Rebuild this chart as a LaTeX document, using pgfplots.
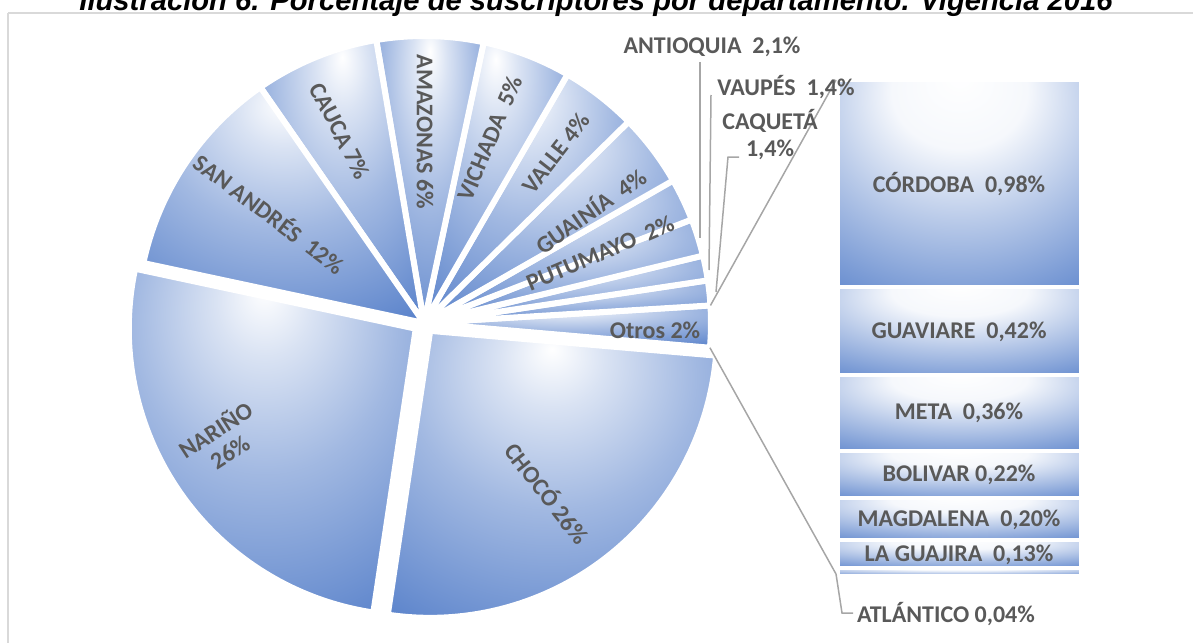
\documentclass[border=0pt]{standalone}
\usepackage{pgfplots}
\pgfplotsset{compat=1.18}
\usepackage{pgfplotstable}
\usepackage{fontspec}
\setmainfont{Carlito}
\newfontfamily\titlefont{Liberation Sans}

\definecolor{pieblue}{HTML}{4472C4}
\definecolor{lbl}{HTML}{595959}
\definecolor{conn}{HTML}{A6A6A6}
\definecolor{framec}{HTML}{D9D9D9}

\pgfdeclareradialshading{glow}{\pgfpoint{0bp}{22bp}}{%
 color(0bp)=(white);
 color(8bp)=(white!80!pieblue);
 color(22bp)=(white!50!pieblue);
 color(38bp)=(white!22!pieblue);
 color(50bp)=(pieblue);
 color(100bp)=(pieblue)}
\pgfdeclareradialshading{barglow}{\pgfpoint{0bp}{26bp}}{%
 color(0bp)=(white);
 color(14bp)=(white!95!pieblue);
 color(28bp)=(white!62!pieblue);
 color(42bp)=(white!30!pieblue);
 color(56bp)=(pieblue);
 color(100bp)=(pieblue)}

% pie: share of each department (%), explosion in px
\pgfplotstableread{
dep val ex
Choco 26 10
Otros 2.35 0
Caqueta 1.4 0
Vaupes 1.4 0
Antioquia 2.1 0
Putumayo 2.4 0
Guainia 4.1 0
Valle 4.3 0
Vichada 5 0
Amazonas 6 0
Cauca 7 0
SanAndres 12 0
Narino 26 10
}\piedata

% bar of "Otros" (%)
\pgfplotstableread{
dep val
Atlantico 0.04
LaGuajira 0.13
Magdalena 0.20
Bolivar 0.22
Meta 0.36
Guaviare 0.42
Cordoba 0.98
}\bardata

\tikzset{lab/.style={text=lbl, font=\bfseries\fontsize{12}{13}\selectfont, inner sep=0pt}}
\pgfplotsset{pix/.style={x=0.5pt, y=0.5pt, xmin=0, xmax=1193, ymin=0, ymax=642, y dir=reverse,
  hide axis, clip=false, scale only axis, at={(0,0)}, anchor=south west}}
\def\cx{424}\def\cy{323}\def\rr{287}

\begin{document}
\begin{tikzpicture}
\begin{axis}[pix]
\addplot[draw=none] coordinates {(0,0) (1193,642)};
% frame
\draw[framec, line width=0.75pt] (axis cs:8,13) -- (axis cs:1200,13);
\draw[framec, line width=0.75pt] (axis cs:8,13) -- (axis cs:8,660);
% pie
\pgfplotstablegetrowsof{\piedata}\pgfmathtruncatemacro\nrows{\pgfplotsretval-1}
\def\total{0}
\pgfplotsforeachungrouped \i in {0,...,\nrows}{%
  \pgfplotstablegetelem{\i}{val}\of\piedata
  \pgfmathsetmacro\total{\total+\pgfplotsretval}}
\def\cum{-98.5}
\pgfplotsforeachungrouped \i in {0,...,\nrows}{%
  \pgfplotstablegetelem{\i}{val}\of\piedata \let\v\pgfplotsretval
  \pgfplotstablegetelem{\i}{ex}\of\piedata \let\ex\pgfplotsretval
  \pgfmathsetmacro\a{\cum}
  \pgfmathsetmacro\b{\cum+\v/\total*360}
  \pgfmathsetmacro\m{(\a+\b)/2}
  \pgfmathsetmacro\sx{\cx+\ex*cos(\m)}
  \pgfmathsetmacro\sy{\cy-\ex*sin(\m)}
  \pgfmathsetmacro\rpt{\rr/2}
  \edef\cmd{\noexpand\path[shade,shading=glow,draw=white,line width=3pt]
    (axis cs:\sx,\sy) -- ++(\a:\rpt pt) arc[start angle=\a,end angle=\b,radius=\rpt pt] -- cycle;}
  \cmd
  \ifnum\i=1
    \xdef\otA{\a}\xdef\otB{\b}%
  \fi
  \let\cum\b
}
\end{axis}

% bar of the "Otros" slice (stacked segments)
\begin{axis}[at={(419pt,33pt)}, anchor=south west, scale only axis,
  width=121.5pt, height=248pt, xmin=0, xmax=1, ymin=0, ymax=2.35,
  hide axis, clip=false]
\addplot[draw=none] coordinates {(0,0) (1,2.35)};
\def\lo{0}
\pgfplotsforeachungrouped \i in {0,...,6}{%
  \pgfplotstablegetelem{\i}{val}\of\bardata
  \pgfmathsetmacro\hi{\lo+\pgfplotsretval}
  \edef\cmd{\noexpand\path[shade, shading=barglow, draw=white, line width=2pt]
    (axis cs:0,\lo) rectangle (axis cs:1,\hi);}
  \cmd
  \let\lo\hi
}
\end{axis}

% texts and leader lines
\begin{axis}[pix]
\addplot[draw=none] coordinates {(0,0) (1193,642)};
\node[anchor=base, font=\titlefont\bfseries\itshape\fontsize{14.6}{16}\selectfont] at (axis cs:596,11)
  {Ilustración 6. Porcentaje de suscriptores por departamento. Vigencia 2016};
\draw[conn, line width=0.75pt] (axis cs:{\cx+\rr*cos(\otB)},{\cy-\rr*sin(\otB)}) -- (axis cs:836,80);
\draw[conn, line width=0.75pt] (axis cs:{\cx+\rr*cos(\otA)},{\cy-\rr*sin(\otA)}) -- (axis cs:836,574);
\draw[conn, line width=0.75pt] (axis cs:836,574) -- (axis cs:842,613) -- (axis cs:853,613);
\draw[conn, line width=0.75pt] (axis cs:700,62) -- (axis cs:700,238);
\draw[conn, line width=0.75pt] (axis cs:711,95) -- (axis cs:709,270);
\draw[conn, line width=0.75pt] (axis cs:739,157) -- (axis cs:728,157) -- (axis cs:716,292);
% pie labels
\node[lab, rotate=-52] at (axis cs:548,493) {CHOCÓ 26\%};
\node[lab, rotate=33, align=center] at (axis cs:222,440) {NARIÑO\\26\%};
\node[lab, rotate=-37] at (axis cs:270,213) {SAN ANDRÉS\ \ 12\%};
\node[lab, rotate=-63] at (axis cs:340,131) {CAUCA 7\%};
\node[lab, rotate=-90] at (axis cs:425,132) {AMAZONAS 6\%};
\node[lab, rotate=67] at (axis cs:490,138) {VICHADA\ \ 5\%};
\node[lab, rotate=52] at (axis cs:556,153) {VALLE 4\%};
\node[lab, rotate=35] at (axis cs:590,210) {GUAINÍA\ \ 4\%};
\node[lab, rotate=23] at (axis cs:600,253) {PUTUMAYO\ \ 2\%};
\node[lab] at (axis cs:655,330) {Otros 2\%};
\node[lab] at (axis cs:712,47) {ANTIOQUIA\ \ 2,1\%};
\node[lab] at (axis cs:786,87) {VAUPÉS\ \ 1,4\%};
\node[lab] at (axis cs:770,121) {CAQUETÁ};
\node[lab] at (axis cs:770,150) {1,4\%};
% bar labels
\node[lab] at (axis cs:959,184) {CÓRDOBA\ \ 0,98\%};
\node[lab] at (axis cs:959,332) {GUAVIARE\ \ 0,42\%};
\node[lab] at (axis cs:959,413) {META\ \ 0,36\%};
\node[lab] at (axis cs:959,475) {BOLIVAR 0,22\%};
\node[lab] at (axis cs:959,520) {MAGDALENA\ \ 0,20\%};
\node[lab] at (axis cs:959,555) {LA GUAJIRA\ \ 0,13\%};
\node[lab] at (axis cs:946,614) {ATLÁNTICO 0,04\%};
\end{axis}
\pgfresetboundingbox
\useasboundingbox (0,0) rectangle (596.5pt,321pt);
\end{tikzpicture}
\end{document}
